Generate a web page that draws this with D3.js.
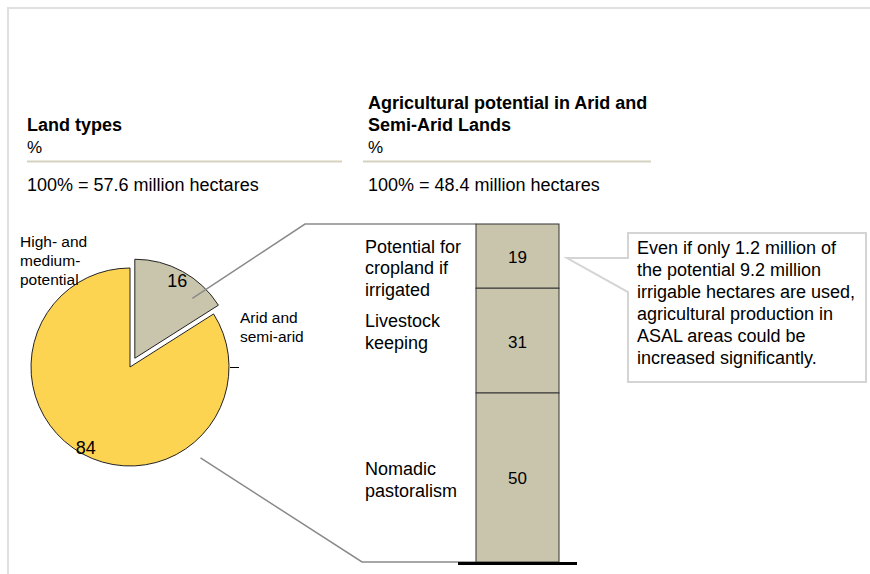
<!DOCTYPE html>
<html>
<head>
<meta charset="utf-8">
<script src="https://cdn.jsdelivr.net/npm/d3@7"></script>
<style>
body { margin: 0; background: #fff; }
svg { display: block; font-family: Arial, "Liberation Sans", sans-serif; }
</style>
</head>
<body>
<div id="chart"></div>
<script>
// left panel: land types
var landTitle = ["Land types"];
var landTypes = [["Arid and", "semi-arid"], ["High- and", "medium-", "potential"]];
var landShares = [16, 84];
var landTotal = "100% = 57.6 million hectares";

// right panel: ASAL split (top to bottom)
var asalTitle = ["Agricultural potential in Arid and", "Semi-Arid Lands"];
var asalUses = [["Potential for", "cropland if", "irrigated"], ["Livestock", "keeping"], ["Nomadic", "pastoralism"]];
var asalShares = [19, 31, 50];
var asalTotal = "100% = 48.4 million hectares";

var calloutLines = [
    "Even if only 1.2 million of",
    "the potential 9.2 million",
    "irrigable hectares are used,",
    "agricultural production in",
    "ASAL areas could be",
    "increased significantly."
];

var width = 870, height = 574;
var yellow = "#fdd452", beige = "#c9c5ad";

var svg = d3.select("#chart")
.append("svg")
.attr("width", width)
.attr("height", height);

// frame
svg.append("path")
.attr("d", "M8," + height + "V8H" + width)
.attr("fill", "none")
.attr("stroke", "#e0e0e0")
.attr("stroke-width", 2);

// headers
const header = (x, title, total, ruleX2) => {
    var top = 131 - (title.length - 1) * 22;
    title.forEach((t, i) => {
        svg.append("text")
        .attr("x", x).attr("y", top + i * 22)
        .attr("font-size", 18).attr("font-weight", "bold")
        .text(t);
    });
    svg.append("text").attr("x", x).attr("y", 153).attr("font-size", 17).text("%");
    svg.append("line")
    .attr("x1", x - (x > 100 ? 5 : 0)).attr("x2", ruleX2)
    .attr("y1", 161.5).attr("y2", 161.5)
    .attr("stroke", "#d5d2c0").attr("stroke-width", 2);
    svg.append("text").attr("x", x).attr("y", 191).attr("font-size", 18).text(total);
};
header(27, landTitle, landTotal, 342);
header(368, asalTitle, asalTotal, 651);

// ---- pie
var cx = 130, cy = 367, r = 99, explode = 10;
var pie = d3.pie().sort(null).startAngle(0).endAngle(2 * Math.PI);
var arcs = pie(landShares);
var arc = d3.arc().innerRadius(0).outerRadius(r);
var mid = a => (a.startAngle + a.endAngle) / 2;
var offset = (a, i) => i == 0 ? [explode * Math.sin(mid(a)), -explode * Math.cos(mid(a))] : [0, 0];

var slice = svg.selectAll(".slice")
.data(arcs)
.enter()
.append("g")
.attr("class", "slice")
.attr("transform", (a, i) => {
    var o = offset(a, i);
    return "translate(" + (cx + o[0]) + "," + (cy + o[1]) + ")";
});

slice.append("path")
.attr("d", arc)
.attr("fill", (a, i) => i == 0 ? beige : yellow)
.attr("stroke", "#222")
.attr("stroke-width", 1);

slice.append("text")
.attr("x", (a, i) => (i == 0 ? 88 : 92) * Math.sin(mid(a)))
.attr("y", (a, i) => -(i == 0 ? 88 : 92) * Math.cos(mid(a)))
.attr("dy", "0.35em")
.attr("text-anchor", "middle")
.attr("font-size", 18)
.text(a => a.data);

// category labels round the pie
var catPos = [[cx + 110, cy - 49], [cx - 110, cy - 125]];
landTypes.forEach((lines, i) => {
    lines.forEach((t, j) => {
        svg.append("text")
        .attr("x", catPos[i][0]).attr("y", catPos[i][1] + j * 19)
        .attr("dy", "0.35em")
        .attr("font-size", 15.5)
        .text(t);
    });
});

// stray leader tick at 3 o'clock
svg.append("line")
.attr("x1", cx + r + 1).attr("x2", cx + r + 10)
.attr("y1", cy + 0.5).attr("y2", cy + 0.5)
.attr("stroke", "#000");

// ---- stacked bar
var barX = 476, barW = 83;
var y = d3.scaleLinear().domain([0, 100]).range([562, 224]);
var tops = asalShares.map((v, i) => 100 - d3.sum(asalShares.slice(0, i)));
var segs = asalShares.map((v, i) => ({v: v, top: tops[i], bottom: tops[i] - v, lines: asalUses[i]}));

// connectors from exploded slice to bar
var a0 = arcs[0], eo = offset(a0, 0);
var sA = Math.PI / 4.1, sR = 83;
var topStart = [cx + eo[0] + sR * Math.sin(sA), cy + eo[1] - sR * Math.cos(sA)];
var bA = Math.PI * 0.79, bR = 115;
var botStart = [cx + bR * Math.sin(bA), cy - bR * Math.cos(bA)];
svg.append("path")
.attr("d", d3.line()([topStart, [barX - 171, y(100)], [barX, y(100)]]))
.attr("fill", "none").attr("stroke", "#8a8a8a").attr("stroke-width", 1.5);
svg.append("path")
.attr("d", d3.line()([botStart, [barX - 114, y(0)], [barX, y(0)]]))
.attr("fill", "none").attr("stroke", "#8a8a8a").attr("stroke-width", 1.5);

svg.selectAll(".seg")
.data(segs)
.enter()
.append("rect")
.attr("class", "seg")
.attr("x", barX)
.attr("y", d => y(d.top))
.attr("width", barW)
.attr("height", d => y(d.bottom) - y(d.top))
.attr("fill", beige)
.attr("stroke", "#333")
.attr("stroke-width", 1);

svg.selectAll(".val")
.data(segs)
.enter()
.append("text")
.attr("class", "val")
.attr("x", barX + barW / 2)
.attr("y", d => y((d.top + d.bottom) / 2) + 1)
.attr("dy", "0.35em")
.attr("text-anchor", "middle")
.attr("font-size", 17)
.text(d => d.v);

var labelShift = [12, -9, 2];
segs.forEach((d, i) => {
    var c = y((d.top + d.bottom) / 2) + labelShift[i];
    var start = c - (d.lines.length - 1) * 21.5 / 2;
    d.lines.forEach((t, j) => {
        svg.append("text")
        .attr("x", 365).attr("y", start + j * 21.5)
        .attr("dy", "0.35em")
        .attr("font-size", 18)
        .text(t);
    });
});

// baseline
svg.append("line")
.attr("x1", barX - 18).attr("x2", barX + barW + 18)
.attr("y1", y(0) + 1.5).attr("y2", y(0) + 1.5)
.attr("stroke", "#000").attr("stroke-width", 3);

// ---- callout
var bx = 628, by = 233, bw = 238, bh = 149;
var tipX = barX + barW + 8, tipY = y(100 - asalShares[0] / 2) + 2;
svg.append("path")
.attr("d", "M" + bx + "," + by + "H" + (bx + bw) + "V" + (by + bh) + "H" + bx +
    "V" + (tipY + 34) + "L" + tipX + "," + tipY + "L" + bx + "," + tipY + "Z")
.attr("fill", "#fff")
.attr("stroke", "#d4d4d4")
.attr("stroke-width", 2);

calloutLines.forEach((t, i) => {
    svg.append("text")
    .attr("x", bx + 9).attr("y", 248 + i * 22)
    .attr("dy", "0.35em")
    .attr("font-size", 18)
    .text(t);
});
</script>
</body>
</html>
